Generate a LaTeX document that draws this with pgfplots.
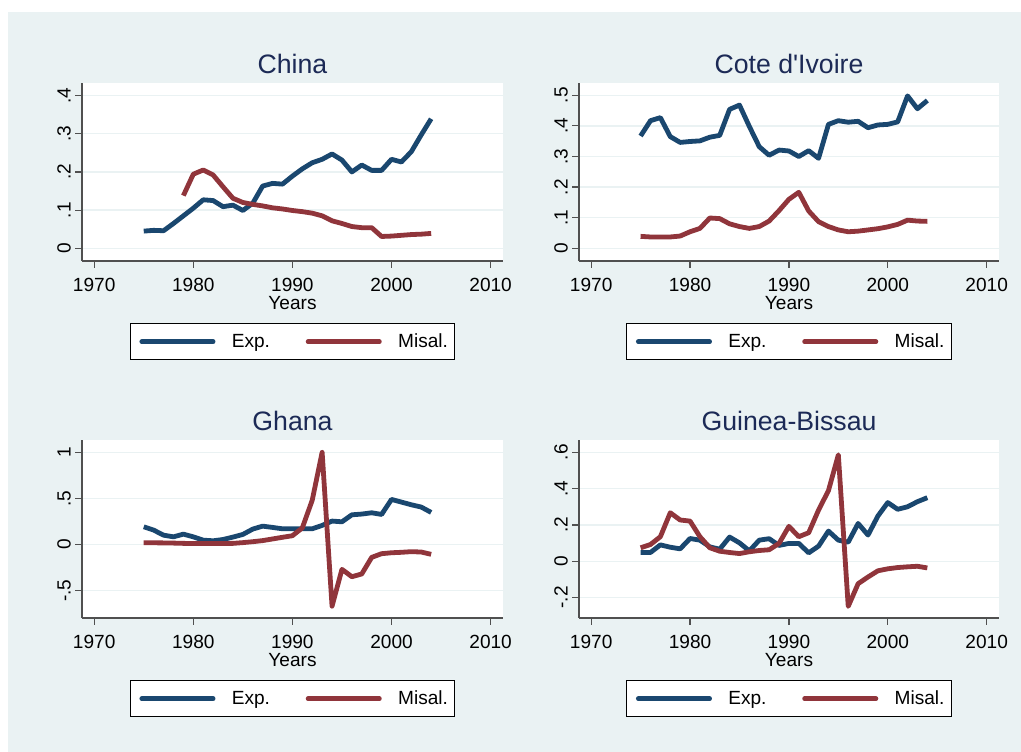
\documentclass[border=0pt]{standalone}
\usepackage{fontspec}
\setmainfont{Liberation Sans}
\usepackage{pgfplots}
\pgfplotsset{compat=1.18}

\definecolor{stnavy}{RGB}{26,71,111}
\definecolor{stmaroon}{RGB}{144,53,59}
\definecolor{stbg}{RGB}{234,242,243}
\definecolor{sttitle}{RGB}{28,42,86}
\definecolor{staxis}{RGB}{80,80,80}

\pgfplotsset{
  panel/.style={
    scale only axis, width=315.75pt, height=133.5pt,
    xmin=1968.77, xmax=2011.25,
    axis x line*=bottom, axis y line*=left,
    axis line style={staxis, line width=1.1pt, -},
    axis background/.style={fill=white},
    tick align=outside, major tick length=5.25pt,
    tick style={staxis, line width=0.9pt},
    xtick={1970,1980,1990,2000,2010},
    xticklabels={1970,1980,1990,2000,2010},
    ymajorgrids, major grid style={stbg, line width=1pt},
    tick label style={font=\fontsize{14.3}{17}\selectfont, text=black},
    xticklabel style={anchor=north, inner sep=0pt},
    yticklabel style={rotate=90, anchor=south, inner sep=0pt},
    xticklabel shift=7.5pt, yticklabel shift=3pt,
    title style={at={(axis description cs:0.5,1.0056)}, anchor=base,
      font=\fontsize{20}{24}\selectfont, text=sttitle},
    xlabel={Years},
    xlabel style={at={(axis description cs:0.5,-0.275)}, anchor=base,
      font=\fontsize{14.3}{17}\selectfont},
    legend columns=2,
    legend style={at={(axis description cs:0.5,-0.35)}, anchor=north,
      draw=black, line width=0.75pt, fill=white,
      inner xsep=5.25pt, inner ysep=7.5pt,
      font=\fontsize{14.3}{17}\selectfont, nodes={inner sep=0pt},
      /tikz/every odd column/.append style={column sep=10.5pt},
      /tikz/every even column/.append style={column sep=25pt}},
    legend image code/.code={\path (0pt,0pt) (57pt,0pt);
      \draw[line width=3.4pt, line cap=round] (1.7pt,0pt) -- (55.3pt,0pt);},
    every axis plot/.append style={line width=3.6pt, line join=round, mark=none},
  },
  exp/.style={stnavy},
  mis/.style={stmaroon},
}

\begin{document}
\begin{tikzpicture}
\useasboundingbox (0pt,0pt) rectangle (765.75pt,564pt);
\fill[white] (0pt,0pt) rectangle (765.75pt,564pt);
\fill[stbg] (6pt,0pt) rectangle (765.75pt,555pt);

% China
\begin{axis}[panel, at={(61.5pt,368.25pt)}, anchor=south west,
  title={China},
  ymin=-0.0332, ymax=0.4328,
  ytick={0,0.1,0.2,0.3,0.4}, yticklabels={0,.1,.2,.3,.4}]
\addplot[exp] coordinates {
(1975,0.045) (1976,0.047) (1977,0.046) (1978,0.065) (1979,0.085)
(1980,0.105) (1981,0.127) (1982,0.125) (1983,0.109) (1984,0.113)
(1985,0.099) (1986,0.118) (1987,0.163) (1988,0.170) (1989,0.168)
(1990,0.189) (1991,0.208) (1992,0.224) (1993,0.233) (1994,0.247)
(1995,0.231) (1996,0.200) (1997,0.218) (1998,0.204) (1999,0.204)
(2000,0.233) (2001,0.226) (2002,0.253) (2003,0.297) (2004,0.339)};
\addlegendentry{Exp.}
\addplot[mis] coordinates {
(1979,0.138) (1980,0.194) (1981,0.205) (1982,0.192) (1983,0.161)
(1984,0.131) (1985,0.120) (1986,0.115) (1987,0.111) (1988,0.106)
(1989,0.103) (1990,0.099) (1991,0.096) (1992,0.092) (1993,0.085)
(1994,0.072) (1995,0.065) (1996,0.057) (1997,0.054) (1998,0.054)
(1999,0.031) (2000,0.032) (2001,0.034) (2002,0.036) (2003,0.037)
(2004,0.039)};
\addlegendentry{Misal.}
\end{axis}

% Cote d'Ivoire
\begin{axis}[panel, at={(434.25pt,368.25pt)}, anchor=south west, width=315pt,
  title={Cote d\textquotesingle Ivoire},
  ymin=-0.0415, ymax=0.5402,
  ytick={0,0.1,0.2,0.3,0.4,0.5}, yticklabels={0,.1,.2,.3,.4,.5}]
\addplot[exp] coordinates {
(1975,0.367) (1976,0.417) (1977,0.427) (1978,0.365) (1979,0.346)
(1980,0.349) (1981,0.351) (1982,0.363) (1983,0.369) (1984,0.454)
(1985,0.468) (1986,0.398) (1987,0.332) (1988,0.304) (1989,0.321)
(1990,0.318) (1991,0.300) (1992,0.319) (1993,0.294) (1994,0.405)
(1995,0.417) (1996,0.412) (1997,0.415) (1998,0.394) (1999,0.403)
(2000,0.405) (2001,0.413) (2002,0.498) (2003,0.456) (2004,0.483)};
\addlegendentry{Exp.}
\addplot[mis] coordinates {
(1975,0.039) (1976,0.037) (1977,0.037) (1978,0.037) (1979,0.040)
(1980,0.054) (1981,0.065) (1982,0.099) (1983,0.097) (1984,0.080)
(1985,0.071) (1986,0.065) (1987,0.071) (1988,0.089) (1989,0.123)
(1990,0.160) (1991,0.183) (1992,0.122) (1993,0.087) (1994,0.071)
(1995,0.060) (1996,0.054) (1997,0.056) (1998,0.060) (1999,0.064)
(2000,0.070) (2001,0.078) (2002,0.092) (2003,0.089) (2004,0.088)};
\addlegendentry{Misal.}
\end{axis}

% Ghana
\begin{axis}[panel, at={(61.5pt,100.5pt)}, anchor=south west,
  title={Ghana},
  ymin=-0.798, ymax=1.134,
  ytick={-0.5,0,0.5,1}, yticklabels={-.5,0,.5,1}]
\addplot[exp] coordinates {
(1975,0.192) (1976,0.156) (1977,0.101) (1978,0.083) (1979,0.112)
(1980,0.083) (1981,0.047) (1982,0.040) (1983,0.054) (1984,0.080)
(1985,0.109) (1986,0.167) (1987,0.199) (1988,0.185) (1989,0.170)
(1990,0.170) (1991,0.170) (1992,0.170) (1993,0.207) (1994,0.254)
(1995,0.246) (1996,0.322) (1997,0.330) (1998,0.344) (1999,0.326)
(2000,0.489) (2001,0.460) (2002,0.431) (2003,0.406) (2004,0.348)};
\addlegendentry{Exp.}
\addplot[mis] coordinates {
(1975,0.018) (1976,0.018) (1977,0.017) (1978,0.015) (1979,0.012)
(1980,0.010) (1981,0.010) (1982,0.010) (1983,0.010) (1984,0.012)
(1985,0.020) (1986,0.030) (1987,0.042) (1988,0.060) (1989,0.078)
(1990,0.095) (1991,0.180) (1992,0.480) (1993,1.000) (1994,-0.670)
(1995,-0.270) (1996,-0.350) (1997,-0.320) (1998,-0.140) (1999,-0.100)
(2000,-0.090) (2001,-0.085) (2002,-0.078) (2003,-0.082) (2004,-0.107)};
\addlegendentry{Misal.}
\end{axis}

% Guinea-Bissau
\begin{axis}[panel, at={(434.25pt,100.5pt)}, anchor=south west, width=315pt,
  title={Guinea-Bissau},
  ymin=-0.313, ymax=0.668,
  ytick={-0.2,0,0.2,0.4,0.6}, yticklabels={-.2,0,.2,.4,.6}]
\addplot[exp] coordinates {
(1975,0.048) (1976,0.048) (1977,0.090) (1978,0.077) (1979,0.068)
(1980,0.125) (1981,0.116) (1982,0.079) (1983,0.066) (1984,0.133)
(1985,0.101) (1986,0.057) (1987,0.116) (1988,0.124) (1989,0.087)
(1990,0.098) (1991,0.098) (1992,0.046) (1993,0.083) (1994,0.166)
(1995,0.116) (1996,0.105) (1997,0.208) (1998,0.144) (1999,0.249)
(2000,0.323) (2001,0.286) (2002,0.300) (2003,0.328) (2004,0.350)};
\addlegendentry{Exp.}
\addplot[mis] coordinates {
(1975,0.074) (1976,0.092) (1977,0.135) (1978,0.267) (1979,0.227)
(1980,0.221) (1981,0.135) (1982,0.074) (1983,0.055) (1984,0.048)
(1985,0.042) (1986,0.052) (1987,0.059) (1988,0.063) (1989,0.098)
(1990,0.192) (1991,0.135) (1992,0.157) (1993,0.282) (1994,0.389)
(1995,0.586) (1996,-0.249) (1997,-0.124) (1998,-0.087) (1999,-0.053)
(2000,-0.042) (2001,-0.035) (2002,-0.031) (2003,-0.028) (2004,-0.037)};
\addlegendentry{Misal.}
\end{axis}
\end{tikzpicture}
\end{document}
